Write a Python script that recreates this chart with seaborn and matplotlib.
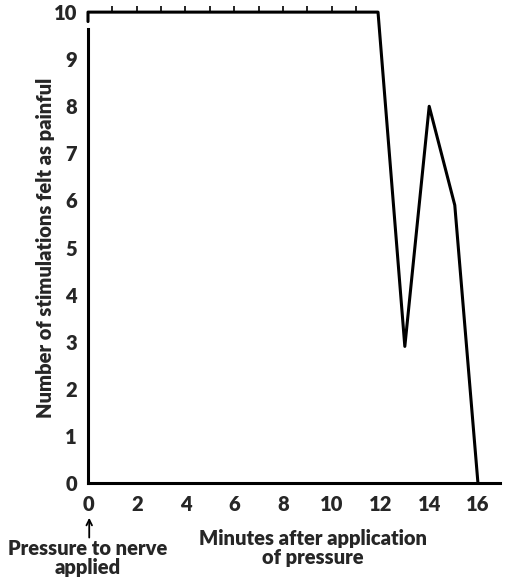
import numpy as np
import pandas as pd
import matplotlib
matplotlib.use("Agg")
import matplotlib.pyplot as plt
import seaborn as sns

# values
minutes = [0, 0, 1, 2, 3, 4, 5, 6, 7, 8, 9, 10, 11, 11.9, 13.0, 14.0, 15.05, 16.0]
painful = [9.8, 10, 10, 10, 10, 10, 10, 10, 10, 10, 10, 10, 10, 10, 2.9, 8.0, 5.9, 0]
x_ticks = [0, 2, 4, 6, 8, 10, 12, 14, 16]
y_ticks = [0, 1, 2, 3, 4, 5, 6, 7, 8, 9, 10]
tick_minutes = [1, 2, 3, 4, 5, 6, 7, 8, 9, 10, 11]

sns.set_style("white")
plt.rcParams['font.family'] = ['Lato', 'DejaVu Sans']
plt.rcParams['font.weight'] = 'heavy'

df = pd.DataFrame({"minutes": minutes, "painful": painful})

fig = plt.figure(figsize=(5.22, 5.77), dpi=100)
ax = fig.add_axes([0.1686, 0.163, 0.789, 0.816])

sns.lineplot(data=df, x="minutes", y="painful", sort=False, estimator=None,
             color="black", linewidth=2.2, ax=ax, clip_on=False)
# small upward ticks along the top line
ax.plot(tick_minutes, [10] * len(tick_minutes), linestyle="none",
        marker=2, markersize=4, color="black", markeredgewidth=1.2,
        clip_on=False)

ax.set_xlim(0, 16.9)
ax.set_ylim(0, 10)
ax.set_xticks(x_ticks)
ax.set_yticks(y_ticks)
ax.tick_params(length=0, labelsize=14.5)
ax.tick_params(axis="x", pad=9)
ax.tick_params(axis="y", pad=8)
for lab in ax.get_xticklabels() + ax.get_yticklabels():
    lab.set_fontweight("heavy")

for s in ["top", "right"]:
    ax.spines[s].set_visible(False)
ax.spines["left"].set_bounds(0, 9.65)
for s in ["left", "bottom"]:
    ax.spines[s].set_linewidth(2.2)
    ax.spines[s].set_color("black")

ax.set_xlabel("")
ax.set_ylabel("Number of stimulations felt as painful", fontsize=14.5,
              fontweight="heavy", labelpad=-1)

ax.annotate("", xy=(0.05, -0.74), xytext=(0.05, -1.16), xycoords="data",
            annotation_clip=False,
            arrowprops=dict(arrowstyle="->", color="black", lw=1.3,
                            mutation_scale=10, shrinkA=0, shrinkB=0))
fig.text(88 / 522, 1 - 558 / 577, "Pressure to nerve\napplied", ha="center",
         va="center", fontsize=14.5, fontweight="heavy", linespacing=1.0)
fig.text(313 / 522, 1 - 548 / 577, "Minutes after application\nof pressure",
         ha="center", va="center", fontsize=14.5, fontweight="heavy",
         linespacing=1.0)

fig.savefig("out.png", dpi=100)
